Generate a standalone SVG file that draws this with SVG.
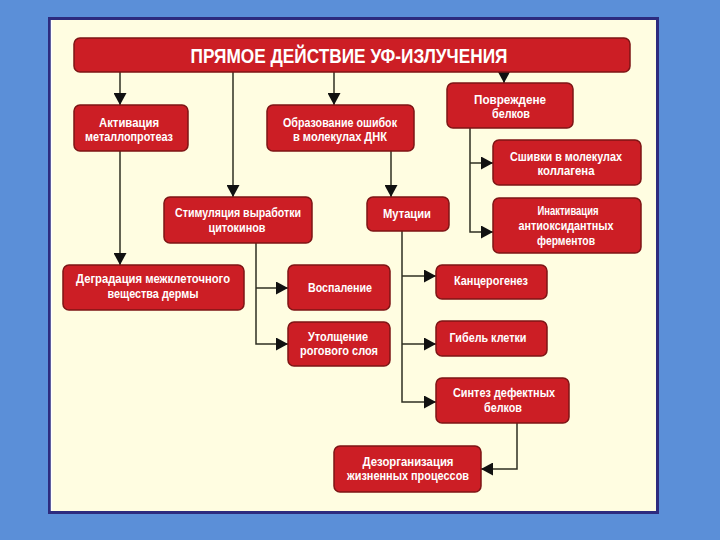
<svg xmlns="http://www.w3.org/2000/svg" width="720" height="540" viewBox="0 0 720 540">
<defs>
<style>
.box{fill:#cc1e25;stroke:#7e1515;stroke-width:1.5}
.t{font-family:"Liberation Sans","DejaVu Sans",Arial,sans-serif;font-weight:bold;font-size:12.5px;fill:#ffffff;text-anchor:middle}
.ttl{font-family:"Liberation Sans","DejaVu Sans",Arial,sans-serif;font-weight:bold;font-size:21px;fill:#ffffff;text-anchor:middle}
.ln{fill:none;stroke:#2f2f22;stroke-width:1.5}
</style>
<marker id="ah" markerUnits="userSpaceOnUse" markerWidth="12" markerHeight="13" refX="12" refY="6.5" orient="auto">
<path d="M0,0 L12,6.5 L0,13 z" fill="#111"/>
</marker>
</defs>
<rect x="0" y="0" width="720" height="540" fill="#5b8fd8"/>
<rect x="49.5" y="18.5" width="608" height="494" fill="#fffde1" stroke="#2d2b7e" stroke-width="3"/>
<line x1="51.5" y1="20" x2="51.5" y2="511" stroke="#ffffff" stroke-width="1.5"/>

<g id="connectors">
<path class="ln" d="M120,72 V105" marker-end="url(#ah)"/>
<path class="ln" d="M233,72 V197" marker-end="url(#ah)"/>
<path class="ln" d="M334,72 V105" marker-end="url(#ah)"/>
<path class="ln" d="M504,72 V83" marker-end="url(#ah)"/>
<path class="ln" d="M120,151 V265" marker-end="url(#ah)"/>
<path class="ln" d="M391,151 V197" marker-end="url(#ah)"/>
<path class="ln" d="M470,128 V232 H493" marker-end="url(#ah)"/>
<path class="ln" d="M470,163 H493" marker-end="url(#ah)"/>
<path class="ln" d="M256,243 V344 H288" marker-end="url(#ah)"/>
<path class="ln" d="M256,288 H288" marker-end="url(#ah)"/>
<path class="ln" d="M402,231 V402 H436" marker-end="url(#ah)"/>
<path class="ln" d="M402,276 H436" marker-end="url(#ah)"/>
<path class="ln" d="M402,344 H436" marker-end="url(#ah)"/>
<path class="ln" d="M517,423 V469 H481" marker-end="url(#ah)"/>
</g>

<g id="title">
<rect class="box" x="74" y="38" width="556" height="34" rx="6"/>
<text class="ttl" x="349" y="63" textLength="317" lengthAdjust="spacingAndGlyphs">ПРЯМОЕ ДЕЙСТВИЕ УФ-ИЗЛУЧЕНИЯ</text>
</g>
<g id="n1">
<rect class="box" x="74" y="105" width="114" height="46" rx="6"/>
<text class="t" x="129" y="127" textLength="60" lengthAdjust="spacingAndGlyphs">Активация</text>
<text class="t" x="129" y="141" textLength="88" lengthAdjust="spacingAndGlyphs">металлопротеаз</text>
</g>
<g id="n2">
<rect class="box" x="267" y="105" width="147" height="46" rx="6"/>
<text class="t" x="340" y="127" textLength="114" lengthAdjust="spacingAndGlyphs">Образование ошибок</text>
<text class="t" x="340" y="141" textLength="94" lengthAdjust="spacingAndGlyphs">в молекулах ДНК</text>
</g>
<g id="n3">
<rect class="box" x="447" y="83" width="126" height="45" rx="6"/>
<text class="t" x="510" y="104" textLength="72" lengthAdjust="spacingAndGlyphs">Повреждене</text>
<text class="t" x="511" y="118" textLength="38" lengthAdjust="spacingAndGlyphs">белков</text>
</g>
<g id="n4">
<rect class="box" x="493" y="140" width="148" height="45" rx="6"/>
<text class="t" x="566" y="161" textLength="112" lengthAdjust="spacingAndGlyphs">Сшивки в молекулах</text>
<text class="t" x="566" y="175" textLength="57" lengthAdjust="spacingAndGlyphs">коллагена</text>
</g>
<g id="n5">
<rect class="box" x="493" y="198" width="148" height="55" rx="6"/>
<text class="t" x="568" y="215" textLength="61" lengthAdjust="spacingAndGlyphs">Инактивация</text>
<text class="t" x="566" y="230" textLength="95" lengthAdjust="spacingAndGlyphs">антиоксидантных</text>
<text class="t" x="566" y="245" textLength="58" lengthAdjust="spacingAndGlyphs">ферментов</text>
</g>
<g id="n6">
<rect class="box" x="164" y="197" width="148" height="46" rx="6"/>
<text class="t" x="238" y="217" textLength="126" lengthAdjust="spacingAndGlyphs">Стимуляция выработки</text>
<text class="t" x="237" y="232" textLength="57" lengthAdjust="spacingAndGlyphs">цитокинов</text>
</g>
<g id="n7">
<rect class="box" x="367" y="197" width="82" height="34" rx="6"/>
<text class="t" x="407" y="218" textLength="48" lengthAdjust="spacingAndGlyphs">Мутации</text>
</g>
<g id="n8">
<rect class="box" x="63" y="265" width="181" height="45" rx="6"/>
<text class="t" x="153" y="283" textLength="154" lengthAdjust="spacingAndGlyphs">Деградация межклеточного</text>
<text class="t" x="153" y="298" textLength="91" lengthAdjust="spacingAndGlyphs">вещества дермы</text>
</g>
<g id="n9">
<rect class="box" x="288" y="265" width="102" height="45" rx="6"/>
<text class="t" x="340" y="292" textLength="64" lengthAdjust="spacingAndGlyphs">Воспаление</text>
</g>
<g id="n10">
<rect class="box" x="288" y="322" width="102" height="44" rx="6"/>
<text class="t" x="338" y="341" textLength="60" lengthAdjust="spacingAndGlyphs">Утолщение</text>
<text class="t" x="339" y="355" textLength="78" lengthAdjust="spacingAndGlyphs">рогового слоя</text>
</g>
<g id="n11">
<rect class="box" x="436" y="265" width="111" height="34" rx="6"/>
<text class="t" x="491" y="285" textLength="74" lengthAdjust="spacingAndGlyphs">Канцерогенез</text>
</g>
<g id="n12">
<rect class="box" x="436" y="321" width="111" height="35" rx="6"/>
<text class="t" x="488" y="342" textLength="77" lengthAdjust="spacingAndGlyphs">Гибель клетки</text>
</g>
<g id="n13">
<rect class="box" x="436" y="378" width="133" height="45" rx="6"/>
<text class="t" x="504" y="397" textLength="102" lengthAdjust="spacingAndGlyphs">Синтез дефектных</text>
<text class="t" x="503" y="412" textLength="38" lengthAdjust="spacingAndGlyphs">белков</text>
</g>
<g id="n14">
<rect class="box" x="334" y="446" width="147" height="46" rx="6"/>
<text class="t" x="408" y="466" textLength="91" lengthAdjust="spacingAndGlyphs">Дезорганизация</text>
<text class="t" x="408" y="480" textLength="122" lengthAdjust="spacingAndGlyphs">жизненных процессов</text>
</g>
</svg>
